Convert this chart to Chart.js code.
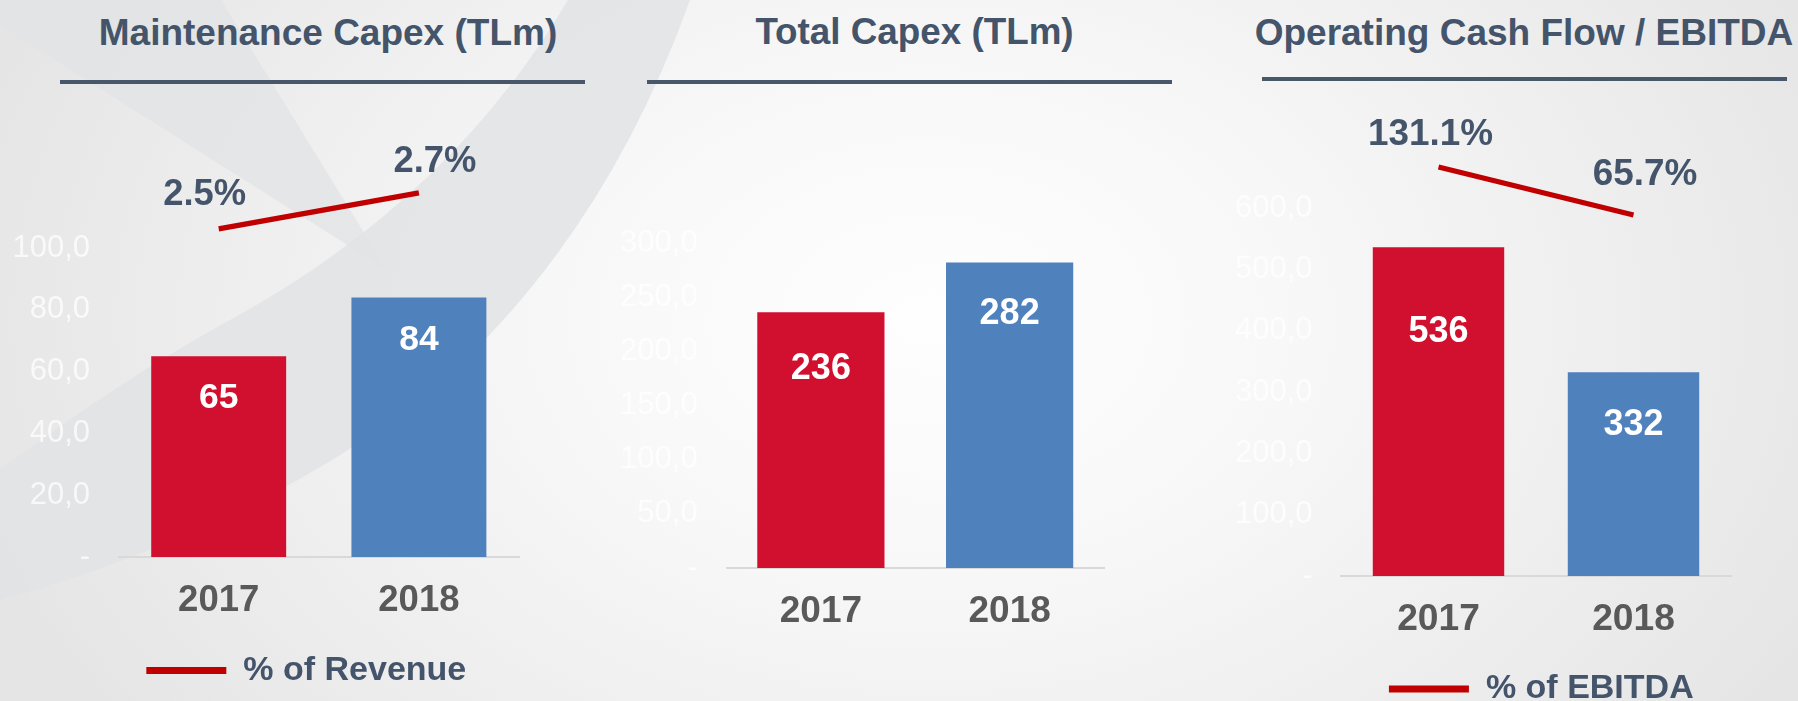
<!DOCTYPE html>
<html>
<head>
<meta charset="utf-8">
<script src="https://cdn.jsdelivr.net/npm/chart.js@4.4.1/dist/chart.umd.min.js"></script>
<style>
html,body{margin:0;padding:0;width:1798px;height:701px;overflow:hidden;}
body{position:relative;background:radial-gradient(ellipse 1000px 700px at 930px 320px,#fefefe 0%,#f8f8f8 35%,#eeeeee 70%,#e5e5e5 100%);}
#bg{position:absolute;left:0;top:0;}
canvas{position:absolute;top:0;}
.title{position:absolute;white-space:nowrap;text-align:center;color:#44546a;font-weight:bold;line-height:1;}
.rule{position:absolute;height:4px;background:#485769;}
</style>
</head>
<body>
<svg id="bg" width="1798" height="701" viewBox="0 0 1798 701">
  <path d="M-40,0 L221,0 L387,270 Z" fill="#e2e3e5" opacity="0.75"/>
  <path d="M568,0 L690,0 Q600,250 420,400 Q250,530 0,600 L0,470 Q120,380 230,320 Q450,200 568,0 Z" fill="#e2e3e5" opacity="0.85"/>
</svg>
<div id="titles"></div>
<canvas id="c1" style="left:0px"></canvas>
<canvas id="c2" style="left:600px"></canvas>
<canvas id="c3" style="left:1200px"></canvas>
<script>
// ---- data ----
const years = ['2017', '2018'];
const maintCapex = [65, 84];
const maintPctOfRevenue = [2.5, 2.7];
const totalCapex = [236, 282];
const opCashFlow = [536, 332];
const ocfPctOfEbitda = [131.1, 65.7];
const maintTicks = [0, 20, 40, 60, 80, 100];
const totalTicks = [0, 50, 100, 150, 200, 250, 300];
const ocfTicks = [0, 100, 200, 300, 400, 500, 600];
const panelTitles = ['Maintenance Capex (TLm)', 'Total Capex (TLm)', 'Operating Cash Flow / EBITDA'];
const legendLabels = ['% of Revenue', '% of EBITDA'];
const barColors = ['#d10f2f', '#4f81bd'];

const FAM = '"Liberation Sans", Arial, Helvetica, sans-serif';
const HC = 740;   // canvas height

// ---- titles & rules ----
const titleGeom = [
  {cx: 328, size: 37, rule: [60, 585, 80]},
  {cx: 914.5, size: 36.8, rule: [647, 1172, 80]},
  {cx: 1524, size: 37, rule: [1262, 1787, 77]}
];
const tBox = document.getElementById('titles');
titleGeom.forEach((g, i) => {
  const d = document.createElement('div');
  d.className = 'title';
  d.style.fontFamily = FAM;
  d.style.fontSize = g.size + 'px';
  d.style.left = (g.cx - 400) + 'px';
  d.style.width = '800px';
  d.style.top = (45 - 0.8465 * g.size) + 'px';
  d.textContent = panelTitles[i];
  tBox.appendChild(d);
  const r = document.createElement('div');
  r.className = 'rule';
  r.style.left = g.rule[0] + 'px';
  r.style.width = (g.rule[1] - g.rule[0]) + 'px';
  r.style.top = g.rule[2] + 'px';
  tBox.appendChild(r);
});

// ---- value labels plugin ----
const valueLabels = {
  id: 'valueLabels',
  afterDatasetsDraw(chart, args, o) {
    const ctx = chart.ctx;
    ctx.save();
    ctx.textAlign = 'center';
    ctx.textBaseline = 'middle';
    const bm = chart.getDatasetMeta(0);
    ctx.font = 'bold ' + o.barFont + 'px ' + FAM;
    ctx.fillStyle = '#ffffff';
    bm.data.forEach((el, i) => {
      ctx.fillText(String(chart.data.datasets[0].data[i]), el.x, el.y + o.barOff[i]);
    });
    if (chart.data.datasets.length > 1) {
      const lm = chart.getDatasetMeta(1);
      ctx.font = 'bold ' + o.lineFont + 'px ' + FAM;
      ctx.fillStyle = '#44546a';
      lm.data.forEach((el, i) => {
        const val = chart.data.datasets[1].data[i];
        ctx.fillText(val.toFixed(1) + '%', el.x + o.lineOff[i][0], el.y + o.lineOff[i][1]);
      });
    }
    ctx.restore();
  }
};

const fmtTick = t => t === 0 ? '-' : t.toFixed(1).replace('.', ',');

const panels = [
  {id: 'c1', width: 640, bars: maintCapex, ticks: maintTicks, line: maintPctOfRevenue, lineLabel: legendLabels[0],
   y1: [0.678, 2.394], pad: {left: 0, right: 27.4, top: 248}, wy: 118.6, wy1: 93.6, bottom: 557,
   legendCenter: 670.5, boxW: 80, legendFont: 34, yearSize: 36.5, barFont: 35.5, lineFont: 36.4,
   barOff: [42, 43], lineOff: [[-14, -34], [16, -31]], tickPad: 28.6},
  {id: 'c2', width: 600, bars: totalCapex, ticks: totalTicks, line: null,
   pad: {left: 0, right: 96, top: 243}, wy: 126.5, wy1: 0, bottom: 568,
   yearSize: 37, barFont: 36, barOff: [57, 52], tickPad: 28.8},
  {id: 'c3', width: 700, bars: opCashFlow, ticks: ocfTicks, line: ocfPctOfEbitda, lineLabel: legendLabels[1],
   y1: [-426.2, 75.24], pad: {left: 0, right: 17.4, top: 208}, wy: 141, wy1: 151.6, bottom: 576,
   legendCenter: 689, boxW: 80, legendFont: 34, yearSize: 37.2, barFont: 36, lineFont: 36.9,
   barOff: [85, 53], lineOff: [[-8, -32], [11.5, -40.5]], tickPad: 28.5}
];

panels.forEach(p => {
  const cv = document.getElementById(p.id);
  cv.width = p.width;
  cv.height = HC;
  cv.style.width = p.width + 'px';
  cv.style.height = HC + 'px';
  const hasLegend = !!p.line;
  const Fl = hasLegend ? p.legendFont : 12;
  let pb, hx;
  if (hasLegend) {
    pb = HC - p.legendCenter - Fl / 2 - 10;
    hx = HC - pb - (Fl + 20) - p.bottom;
  } else {
    pb = 0;
    hx = HC - p.bottom;
  }
  const Fy = p.yearSize;
  const xPad = 44 - 0.6 * Fy;

  const datasets = [{
    type: 'bar',
    label: 'value',
    data: p.bars,
    backgroundColor: barColors,
    borderWidth: 0,
    barPercentage: 0.674,
    categoryPercentage: 1,
    yAxisID: 'y',
    order: 2
  }];
  if (p.line) {
    datasets.push({
      type: 'line',
      label: p.lineLabel,
      data: p.line,
      borderColor: '#c00000',
      backgroundColor: '#c00000',
      borderWidth: 5.2,
      borderCapStyle: 'butt',
      pointRadius: 0,
      tension: 0,
      yAxisID: 'y1',
      clip: false,
      order: 1
    });
  }
  const scales = {
    x: {
      type: 'category',
      offset: true,
      grid: {display: false, drawTicks: false},
      border: {display: true, color: '#d9d9d9', width: 2},
      ticks: {font: {family: FAM, size: Fy, weight: 'bold'}, color: '#595959', padding: xPad, maxRotation: 0},
      afterFit: s => { s.height = hx; }
    },
    y: {
      type: 'linear',
      position: 'left',
      min: p.ticks[0],
      max: p.ticks[p.ticks.length - 1],
      grid: {display: false, drawTicks: false},
      border: {display: false},
      afterBuildTicks: s => { s.ticks = p.ticks.map(t => ({value: t})); },
      ticks: {font: {family: FAM, size: 31}, color: 'rgba(255,255,255,0.75)', padding: p.tickPad,
              autoSkip: false, callback: t => fmtTick(t)},
      afterFit: s => { s.width = p.wy; }
    }
  };
  if (p.line) {
    scales.y1 = {
      type: 'linear',
      position: 'right',
      display: p.wy1 > 0,
      min: p.y1[0],
      max: p.y1[1],
      grid: {display: false, drawTicks: false},
      border: {display: false},
      ticks: {display: false},
      afterFit: s => { s.width = p.wy1; }
    };
  }
  new Chart(cv, {
    data: {labels: years, datasets},
    options: {
      responsive: false,
      animation: false,
      devicePixelRatio: 1,
      events: [],
      layout: {padding: {left: p.pad.left, right: p.pad.right, top: p.pad.top, bottom: pb}},
      scales,
      plugins: {
        tooltip: {enabled: false},
        title: {display: false},
        legend: {
          display: hasLegend,
          position: 'bottom',
          align: 'center',
          labels: {
            boxWidth: p.boxW || 80,
            boxHeight: 7,
            padding: 10,
            color: '#44546a',
            font: {family: FAM, size: Fl, weight: 'bold'},
            generateLabels: chart => chart.data.datasets.length > 1 ? [{
              text: chart.data.datasets[1].label,
              fillStyle: '#c00000',
              strokeStyle: '#c00000',
              lineWidth: 0,
              hidden: false,
              datasetIndex: 1,
              fontColor: '#44546a'
            }] : []
          }
        },
        valueLabels: {barFont: p.barFont, lineFont: p.lineFont || 36, barOff: p.barOff, lineOff: p.lineOff || []}
      }
    },
    plugins: [valueLabels]
  });
});
</script>
</body>
</html>
